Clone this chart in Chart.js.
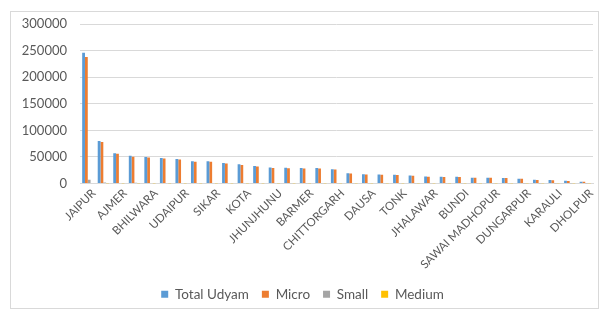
<!DOCTYPE html>
<html>
<head>
<meta charset="utf-8">
<script src="https://cdn.jsdelivr.net/npm/chart.js@4.4.0/dist/chart.umd.min.js"></script>
<style>
html,body{margin:0;padding:0;background:#fff;}
#wrap{position:relative;width:602px;height:311px;}
#frame{position:absolute;left:10px;top:11px;width:587px;height:296px;border:1px solid #d9d9d9;pointer-events:none;}
canvas{position:absolute;left:0;top:0;}
</style>
</head>
<body>
<div id="wrap">
<canvas id="c" width="602" height="311"></canvas>
<div id="frame"></div>
</div>
<script>
const districts = ["JAIPUR","JODHPUR","AJMER","ALWAR","BHILWARA","NAGAUR","UDAIPUR","BIKANER","SIKAR","SRI GANGANAGAR","KOTA","PALI","JHUNJHUNU","CHURU","BARMER","BHARATPUR","CHITTORGARH","HANUMANGARH","DAUSA","JALORE","TONK","BANSWARA","JHALAWAR","RAJSAMAND","BUNDI","BARAN","SAWAI MADHOPUR","SIROHI","DUNGARPUR","PRATAPGARH","KARAULI","JAISALMER","DHOLPUR"];
const totalUdyam = [246000,80000,57000,52000,50000,48000,46000,42000,42000,38500,36000,33000,30000,29500,29000,29000,27000,19500,17500,17000,16500,15000,13000,12500,12500,11000,11000,10500,9000,7000,6500,5000,3500];
const micro = [238000,78000,56000,50500,49000,47000,45000,41000,41000,37500,35000,32000,29000,28800,28200,28300,26200,19000,17000,16600,16000,14600,12700,12200,12200,10700,10700,10200,8800,6800,6300,4900,3400];
const small = [7200,1800,900,1300,900,900,900,900,900,900,900,900,900,650,700,600,700,450,450,380,450,380,280,280,280,280,280,280,180,180,180,90,90];
const medium = [800,200,100,200,100,100,100,100,100,100,100,100,100,50,100,100,100,50,50,20,50,20,20,20,20,20,20,20,20,20,20,10,10];
const seriesNames = ["Total Udyam","Micro","Small","Medium"];
const colors = ["#5B9BD5","#ED7D31","#A5A5A5","#FFC000"];
const yTicks = [0,50000,100000,150000,200000,250000,300000];

const txt = "#595959";
const fam = "Lato, 'Open Sans', sans-serif";
new Chart(document.getElementById('c'), {
  type: 'bar',
  data: {
    labels: districts,
    datasets: [totalUdyam, micro, small, medium].map((d,i)=>({
      label: seriesNames[i], data: d, backgroundColor: colors[i],
      categoryPercentage: 0.72, barPercentage: 1.0
    }))
  },
  options: {
    responsive: false, animation: false,
    layout: { padding: { left: 12, right: 9, top: 24, bottom: 0 } },
    plugins: {
      tooltip: { enabled: false },
      legend: {
        position: 'bottom',
        labels: { boxWidth: 7, boxHeight: 7, color: txt, padding: 13, font: { family: fam, size: 13.5 } }
      }
    },
    scales: {
      x: {
        grid: { display: false, drawTicks: false },
        border: { color: '#d9d9d9' },
        ticks: {
          autoSkip: false, maxRotation: 45, minRotation: 45, padding: 3, labelOffset: 6,
          color: txt, font: { family: fam, size: 11.5 },
          callback: function(v, i) { return i % 2 === 0 ? districts[i] : ''; }
        },
        afterFit: function(s) { s.height = 91; }
      },
      y: {
        min: 0, max: 300000,
        afterBuildTicks: function(s) { s.ticks = yTicks.map(v=>({value:v})); },
        grid: { color: '#d9d9d9', drawTicks: false },
        border: { display: false },
        ticks: { padding: 13, color: txt, font: { family: fam, size: 13 }, callback: v => String(v) },
        afterFit: function(s) { s.width = 68; }
      }
    }
  }
});
</script>
</body>
</html>
